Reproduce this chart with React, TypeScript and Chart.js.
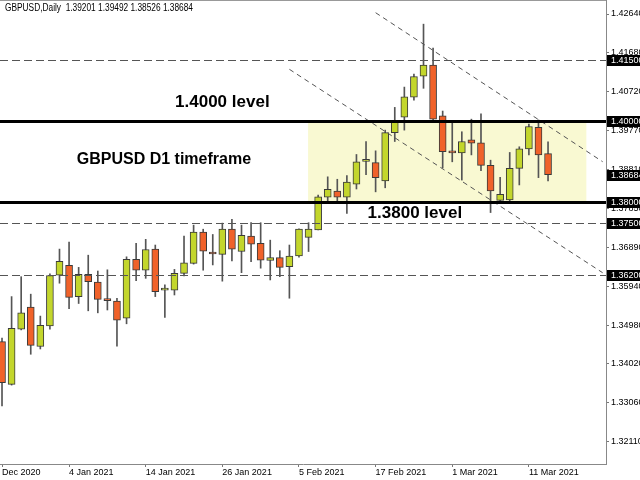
import React, { useEffect, useRef } from 'react';
import { Chart, registerables } from 'chart.js';

Chart.register(...registerables);

const SYMBOL = 'GBPUSD,Daily';

const opens = [
  1.3457, 1.3352, 1.3488, 1.3542, 1.3445, 1.3496, 1.3621, 1.3645, 1.3568, 1.3623,
  1.3604, 1.3562, 1.3557, 1.3515, 1.3660, 1.3633, 1.3685, 1.3584, 1.3584, 1.3625,
  1.3650, 1.3727, 1.3677, 1.3672, 1.3734, 1.3679, 1.3717, 1.3699, 1.3657, 1.3664,
  1.3642, 1.3668, 1.3714, 1.3732, 1.3813, 1.3828, 1.3813, 1.3845, 1.3901, 1.3898,
  1.3853, 1.3972, 1.4010, 1.4059, 1.4111, 1.4138, 1.4013, 1.3927, 1.3922, 1.3954,
  1.3947, 1.3891, 1.3805, 1.3806, 1.3884, 1.3932, 1.3985, 1.39201,
];
const highs = [
  1.3466, 1.3568, 1.3617, 1.3574, 1.3520, 1.3624, 1.3685, 1.3702, 1.3640, 1.3670,
  1.3631, 1.3634, 1.3564, 1.3666, 1.3699, 1.3709, 1.3695, 1.3597, 1.3635, 1.3717,
  1.3744, 1.3734, 1.3721, 1.3749, 1.3758, 1.3744, 1.3750, 1.3750, 1.3707, 1.3681,
  1.3695, 1.3735, 1.3750, 1.3818, 1.3863, 1.3857, 1.3866, 1.3918, 1.3950, 1.3927,
  1.3978, 1.4034, 1.4084, 1.4116, 1.4239, 1.4180, 1.4025, 1.3999, 1.3974, 1.4005,
  1.4018, 1.3904, 1.3862, 1.3923, 1.3937, 1.3993, 1.4003, 1.39492,
];
const lows = [
  1.3299, 1.3350, 1.3486, 1.3426, 1.3439, 1.3488, 1.3601, 1.3538, 1.3551, 1.3533,
  1.3528, 1.3535, 1.3446, 1.3501, 1.3607, 1.3613, 1.3568, 1.3517, 1.3572, 1.3619,
  1.3648, 1.3633, 1.3646, 1.3606, 1.3656, 1.3627, 1.3654, 1.3638, 1.3609, 1.3617,
  1.3564, 1.3665, 1.3679, 1.3732, 1.3799, 1.3799, 1.3773, 1.3833, 1.3868, 1.3826,
  1.3836, 1.3950, 1.3978, 1.4052, 1.4081, 1.4003, 1.3885, 1.3900, 1.3855, 1.3917,
  1.3878, 1.3775, 1.3802, 1.3804, 1.3843, 1.3917, 1.3861, 1.38526,
];
const closes = [
  1.3356, 1.3490, 1.3528, 1.3448, 1.3497, 1.3620, 1.3655, 1.3566, 1.3623, 1.3605,
  1.3561, 1.3558, 1.3510, 1.3660, 1.3633, 1.3684, 1.3580, 1.3584, 1.3625, 1.3651,
  1.3727, 1.3680, 1.3673, 1.3734, 1.3685, 1.3719, 1.3697, 1.3658, 1.3664, 1.3640,
  1.3668, 1.3734, 1.3734, 1.3814, 1.3832, 1.3813, 1.3850, 1.3900, 1.3901, 1.3861,
  1.3972, 1.3997, 1.4060, 1.4110, 1.4138, 1.4005, 1.3925, 1.3922, 1.3950, 1.3946,
  1.3891, 1.3828, 1.3820, 1.3884, 1.3932, 1.3987, 1.3917, 1.38684,
];

const xTickIndex = [0, 7, 15, 23, 31, 39, 47, 55];
const xTickLabels = ['Dec 2020', '4 Jan 2021', '14 Jan 2021', '26 Jan 2021', '5 Feb 2021', '17 Feb 2021', '1 Mar 2021', '11 Mar 2021'];
const yTickValues = [1.4264, 1.4168, 1.4072, 1.3977, 1.3881, 1.3785, 1.3689, 1.3594, 1.3498, 1.3402, 1.3306, 1.3211];

const X_MIN = -0.21;
const X_MAX = 63.05;
const Y_MIN = 1.31557;
const Y_MAX = 1.42985;

const solidLevels = [1.4, 1.38];
const dashedLevels = [1.415, 1.375, 1.362];
const markedPrices = [1.415, 1.4, 1.38, 1.375, 1.362];

const zoneFrom = 31.95;
const zoneTo = 61.0;
const zoneTop = 1.4;
const zoneBottom = 1.38;

const channelUpper = [[39.0, 1.42672], [62.7, 1.39002]];
const channelLower = [[30.0, 1.41278], [62.7, 1.36268]];

const noteTexts = ['1.4000 level', 'GBPUSD D1 timeframe', '1.3800 level'];
const noteX = [23.0, 16.9, 43.1];
const noteY = [1.40473, 1.39044, 1.37739];

const GREEN = '#c3d62c';
const ORANGE = '#f0622a';
const AXIS_FONT = '"Liberation Sans", Arial, sans-serif';

const overlayPlugin = {
  id: 'overlay',
  beforeDatasetsDraw(chart: any) {
    const { ctx, chartArea: a, scales } = chart;
    const x = scales.x;
    const y = scales.y;
    ctx.save();
    ctx.beginPath();
    ctx.rect(a.left, a.top, a.right - a.left, a.bottom - a.top);
    ctx.clip();
    const x1 = x.getPixelForValue(zoneFrom);
    const x2 = x.getPixelForValue(zoneTo);
    const y1 = y.getPixelForValue(zoneTop);
    const y2 = y.getPixelForValue(zoneBottom);
    ctx.fillStyle = '#f9f9d2';
    ctx.fillRect(x1, y1, x2 - x1, y2 - y1);
    ctx.restore();
  },
  afterDatasetsDraw(chart: any) {
    const { ctx, chartArea: a, scales } = chart;
    const x = scales.x;
    const y = scales.y;
    ctx.save();
    ctx.beginPath();
    ctx.rect(a.left, a.top, a.right - a.left, a.bottom - a.top);
    ctx.clip();

    ctx.strokeStyle = '#555';
    ctx.lineWidth = 1;
    ctx.setLineDash([8, 4]);
    dashedLevels.forEach((v) => {
      const py = Math.round(y.getPixelForValue(v)) + 0.5;
      ctx.beginPath();
      ctx.moveTo(a.left, py);
      ctx.lineTo(a.right, py);
      ctx.stroke();
    });

    ctx.strokeStyle = '#555';
    ctx.setLineDash([5, 4]);
    [channelUpper, channelLower].forEach((ln) => {
      ctx.beginPath();
      ctx.moveTo(x.getPixelForValue(ln[0][0]), y.getPixelForValue(ln[0][1]));
      ctx.lineTo(x.getPixelForValue(ln[1][0]), y.getPixelForValue(ln[1][1]));
      ctx.stroke();
    });

    ctx.setLineDash([]);
    ctx.strokeStyle = '#000';
    ctx.lineWidth = 3;
    solidLevels.forEach((v) => {
      const py = Math.round(y.getPixelForValue(v)) + 0.5;
      ctx.beginPath();
      ctx.moveTo(a.left, py);
      ctx.lineTo(a.right, py);
      ctx.stroke();
    });

    ctx.fillStyle = '#000';
    ctx.textAlign = 'center';
    ctx.textBaseline = 'middle';
    noteTexts.forEach((t, i) => {
      ctx.font = i === 1 ? 'bold 16px "Liberation Sans", Arial, sans-serif' : 'bold 17px "Liberation Sans", Arial, sans-serif';
      ctx.fillText(t, x.getPixelForValue(noteX[i]), y.getPixelForValue(noteY[i]));
    });
    ctx.restore();
  },
  afterDraw(chart: any) {
    const { ctx, chartArea: a, scales } = chart;
    const y = scales.y;
    ctx.save();
    ctx.strokeStyle = '#999';
    ctx.lineWidth = 1;
    ctx.beginPath();
    ctx.moveTo(a.left, a.top + 0.5);
    ctx.lineTo(a.right, a.top + 0.5);
    ctx.stroke();

    const lastClose = closes[closes.length - 1];
    const prices = [...markedPrices, lastClose];
    ctx.font = '9px ' + AXIS_FONT;
    ctx.textAlign = 'left';
    ctx.textBaseline = 'middle';
    prices.forEach((v) => {
      const py = Math.round(y.getPixelForValue(v));
      ctx.fillStyle = '#000';
      ctx.fillRect(a.right + 1, py - 5, 40, 11);
      ctx.fillStyle = '#fff';
      ctx.fillText(v.toFixed(5), a.right + 5, py + 0.5);
    });

    const n = closes.length - 1;
    const header = SYMBOL + '  ' + [opens[n], highs[n], lows[n], closes[n]].map((v) => v.toFixed(5)).join(' ');
    ctx.fillStyle = '#000';
    ctx.font = '10px ' + AXIS_FONT;
    ctx.fillText(header, 5, 8, 188);
    ctx.restore();
  },
};

const zeroPadding = (s: any) => {
  s.paddingTop = 0;
  s.paddingBottom = 0;
  s.paddingLeft = 0;
  s.paddingRight = 0;
};

export default function App() {
  const ref = useRef<HTMLCanvasElement | null>(null);

  useEffect(() => {
    document.body.style.margin = '0';
    const canvas = ref.current;
    if (!canvas) return;
    const idx = closes.map((_, i) => i);
    const chart = new Chart(canvas, {
      type: 'bar',
      data: {
        datasets: [
          {
            label: 'wick',
            data: idx.map((i) => ({ x: i, y: [lows[i], highs[i]] })) as any,
            backgroundColor: '#555',
            borderWidth: 0,
            barThickness: 1,
            grouped: false,
            order: 2,
          } as any,
          {
            label: 'body',
            data: idx.map((i) => ({ x: i, y: [opens[i], closes[i]] })) as any,
            backgroundColor: idx.map((i) => (closes[i] >= opens[i] ? GREEN : ORANGE)),
            borderColor: '#3a3a3a',
            borderWidth: 1,
            borderSkipped: false,
            barThickness: 7,
            minBarLength: 2,
            grouped: false,
            order: 1,
          } as any,
        ],
      },
      options: {
        animation: false,
        responsive: false,
        events: [],
        layout: { padding: 0, autoPadding: false } as any,
        plugins: { legend: { display: false }, tooltip: { enabled: false }, title: { display: false } },
        scales: {
          x: {
            type: 'linear',
            min: X_MIN,
            max: X_MAX,
            bounds: 'data',
            offset: false,
            afterBuildTicks: (s: any) => {
              s.ticks = xTickIndex.map((v) => ({ value: v }));
            },
            afterFit: (s: any) => {
              s.height = 16;
              zeroPadding(s);
            },
            ticks: {
              autoSkip: false,
              maxRotation: 0,
              minRotation: 0,
              align: 'start',
              padding: 0,
              color: '#000',
              font: { family: AXIS_FONT, size: 9 },
              callback: (_v: any, i: number) => xTickLabels[i],
            },
            grid: { display: true, offset: false, drawOnChartArea: false, drawTicks: true, tickLength: 3, color: '#777' },
            border: { display: true, color: '#888' },
          },
          y: {
            type: 'linear',
            position: 'right',
            min: Y_MIN,
            max: Y_MAX,
            bounds: 'data',
            afterBuildTicks: (s: any) => {
              s.ticks = yTickValues.map((v) => ({ value: v }));
            },
            afterFit: (s: any) => {
              s.width = 34;
              zeroPadding(s);
            },
            ticks: {
              autoSkip: false,
              padding: 2,
              color: '#000',
              font: { family: AXIS_FONT, size: 9 },
              callback: (v: any) => Number(v).toFixed(5),
            },
            grid: { display: true, drawOnChartArea: false, drawTicks: true, tickLength: 3, color: '#777' },
            border: { display: true, color: '#888' },
          },
        },
      } as any,
      plugins: [overlayPlugin],
    });
    return () => chart.destroy();
  }, []);

  return (
    <div style={{ width: 640, height: 480, background: '#fff' }}>
      <canvas ref={ref} width={640} height={480} style={{ display: 'block' }} />
    </div>
  );
}
